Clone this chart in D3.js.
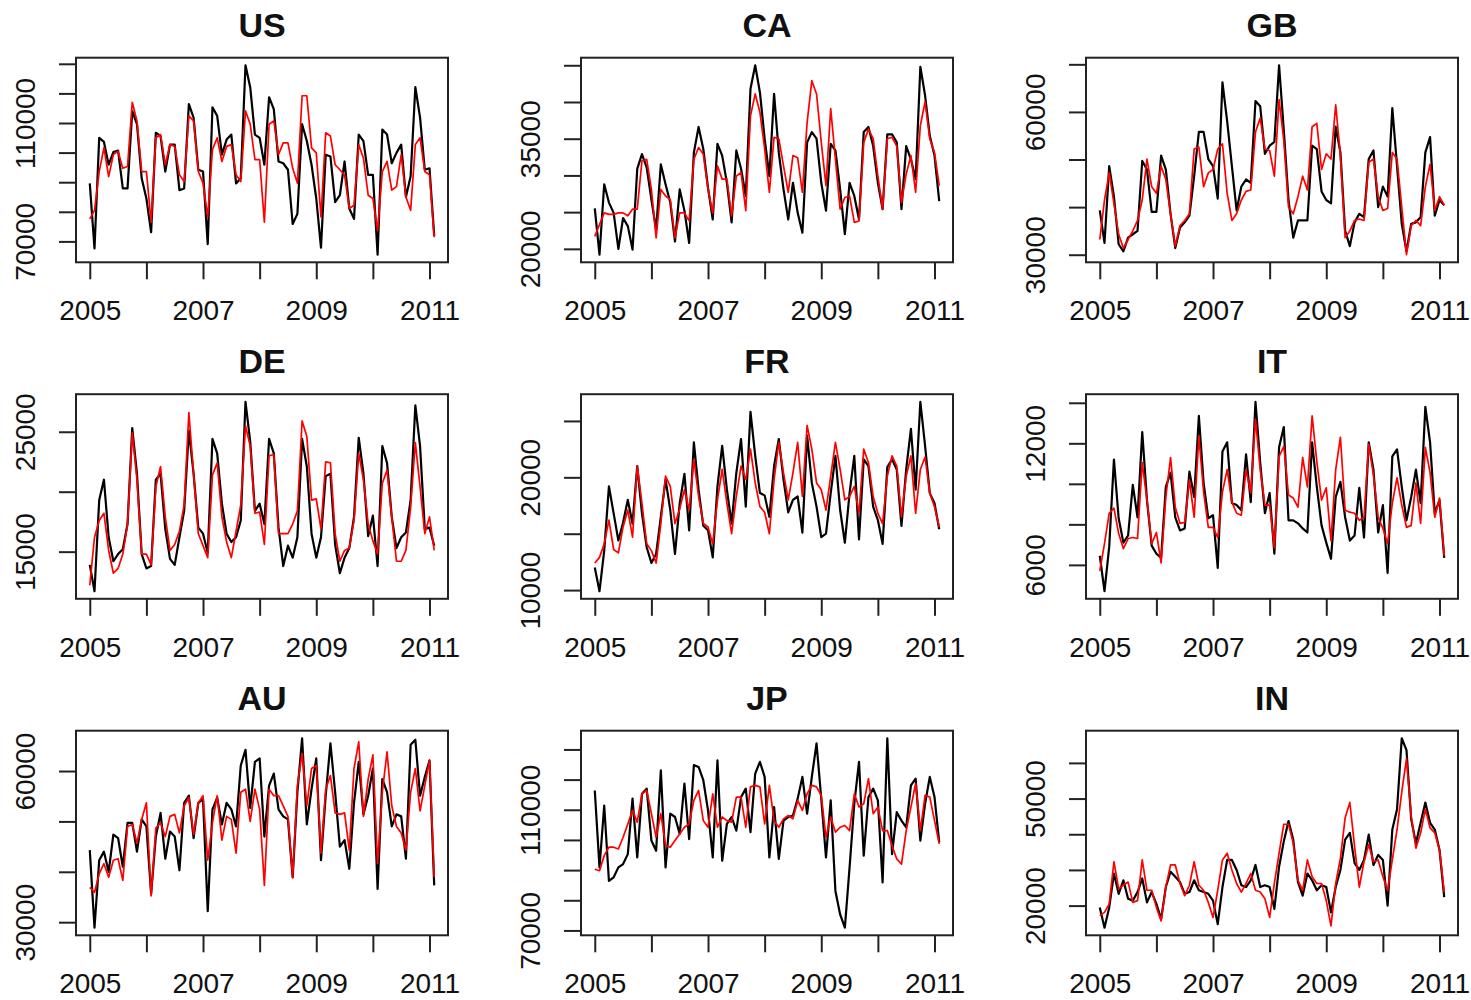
<!DOCTYPE html>
<html>
<head>
<meta charset="utf-8">
<script src="https://cdn.jsdelivr.net/npm/d3@7"></script>
<style>
  body { margin: 0; background: #fff; }
  text { font-family: "Liberation Sans", Arial, sans-serif; fill: #111; }
</style>
</head>
<body>
<div id="chart"></div>
<script>
// monthly series, Jan 2005 .. Feb 2011 (74 points)
var countries = ["US","CA","GB","DE","FR","IT","AU","JP","IN"];
var years = [2005,2006,2007,2008,2009,2010,2011];
var yearLabels = [2005,2007,2009,2011];

// black = actual, red = fitted
var actual_US = [89600,67600,105000,103600,95900,100200,100700,87900,87900,114000,
  109600,91300,84500,73100,106700,105600,93600,102700,102700,87300,
  87900,116400,111800,94200,93600,69100,115300,112400,99300,104400,
  106100,89600,91300,129500,122100,106100,105000,95900,118700,114700,
  97000,96400,94200,75900,79300,109600,103900,95900,84500,67900,
  99300,98700,83300,85600,97000,81100,77600,106100,103900,92500,
  92500,65500,107800,106100,96400,99900,102700,85000,92000,122100,
  111800,94200,94700,71900];
var fitted_US = [77600,80500,93600,101600,91900,99300,100400,94700,95300,117000,
  110700,93600,93600,76500,105000,106100,95900,102700,102100,92500,
  90200,112400,110700,93600,89700,78300,101000,105000,97000,102100,
  102700,92500,90200,114100,109600,97600,97600,76500,109600,110700,
  99300,103300,103300,94700,89700,119200,119200,101600,99900,78300,
  106700,105600,95900,94200,92500,81100,82200,102700,98100,85600,
  84500,73700,93600,97000,87300,88500,99300,85000,80500,102700,
  105000,93600,92500,71400];

var actual_CA = [25500,19200,28800,26300,24900,20000,24200,23100,19900,30900,
  32900,31100,26700,22600,31500,28800,26300,21000,28100,25200,
  20800,33100,36600,33600,28300,24000,34300,32700,29000,23600,
  33400,30900,27200,41800,45000,41300,35000,29900,41100,33100,
  28100,24000,29000,24900,22200,34500,35900,35000,29000,25200,
  34300,33400,28100,22000,29000,27200,24000,35900,36600,34000,
  29000,25400,35600,35600,34500,25400,34000,32200,29500,44800,
  40900,35400,32700,26500];
var fitted_CA = [21700,23300,24900,24700,24700,24900,24900,24500,25400,25400,
  32000,32200,28100,21500,28100,27200,26700,21500,24900,24900,
  23800,32200,33800,32900,28100,24900,31300,29500,29500,24500,
  29900,30400,25200,38100,41100,38600,33600,27700,35200,35000,
  31300,27700,32700,32400,27700,37200,42900,41100,34500,28600,
  39100,32200,25400,27000,27200,23600,23800,34500,36300,35000,
  29900,25400,35000,35200,34000,26300,30200,32700,27700,36800,
  40000,35000,33100,28600];

var actual_GB = [39300,32500,48600,42200,32200,30700,33600,34300,35000,49700,
  47900,39000,39000,50800,47900,38600,31400,35700,36800,38200,
  46500,55800,55800,50100,48600,41800,66200,58000,48600,39300,
  44300,45800,45100,62300,61200,51200,52900,53700,69800,56200,
  41500,33600,37200,37200,37200,52900,52200,43300,41500,40800,
  56900,51500,35000,31800,36800,38600,37900,50100,51900,40000,
  44300,42200,60800,48600,36500,30700,36500,36800,37900,51500,
  54700,38200,41500,40400];
var fitted_GB = [33200,41500,47200,40800,34300,31400,33200,35000,37200,41500,
  50100,44300,42900,48600,45800,38600,31800,36100,37200,38600,
  52200,52600,44300,47200,47900,52200,53300,42900,37200,38600,
  41500,43300,43600,55800,58700,52200,51900,46500,62600,54000,
  40000,38600,42200,46500,43600,56900,57600,47900,51200,50100,
  61500,50800,33600,35000,37200,37500,37200,49400,50100,42200,
  39300,39700,51500,50100,40000,30000,36100,37200,36100,44300,
  49000,39300,42200,40400];

var actual_DE = [13900,11700,19300,21000,16200,14200,14800,15200,17300,25300,
  21500,14800,13600,13800,21000,21500,16900,14400,13900,16200,
  18400,25100,21500,17000,16500,14900,24400,23200,19000,16500,
  15800,16200,17600,27500,24200,18400,19000,17300,24400,23200,
  17000,13800,15500,14500,16200,24400,22100,16500,14500,16200,
  21300,21500,15600,13200,14500,15300,17900,24500,21500,16300,
  18000,13800,23800,22400,17900,15300,16200,16600,19300,27200,
  23800,16900,17000,15500];
var fitted_DE = [12200,16200,17600,18200,15100,13200,13600,14800,17300,24900,
  21000,14800,14800,13900,20400,22100,17900,15100,15600,16700,
  18900,26600,21500,16500,15500,14500,21400,22400,17900,15800,
  14500,16700,18900,25500,23800,18200,18300,15600,23000,23100,
  16500,16500,16500,17300,18400,25900,24600,19300,19400,16900,
  22500,22400,16500,14200,15100,15300,17600,23200,21000,17300,
  15900,14800,20700,21800,17900,14200,14200,15100,18700,24100,
  20400,16500,17900,15100];

var actual_FR = [12000,9900,13500,19200,16800,14400,16000,18000,15900,21000,
  16800,13800,12400,13200,16500,19800,17100,13200,17700,20300,
  15300,23100,18900,15700,15300,12900,19200,22800,18900,15900,
  20400,23400,17400,25800,21900,18600,18400,16500,21000,23400,
  19800,16900,18000,18300,15100,23700,19500,17400,14700,15000,
  18600,21900,17100,14200,18600,21900,14500,21600,21000,17400,
  16200,14100,20900,21600,20700,15700,20700,24300,18900,26700,
  22800,18600,17700,15400];
var fitted_FR = [12400,12900,14100,16200,13600,13300,15600,17100,14700,21000,
  17700,14100,13500,12400,15900,20100,19200,15900,17200,18900,
  17100,21600,18300,15900,15600,14100,18000,20700,17700,15000,
  18300,21000,19800,22500,19500,17400,16900,15000,19800,23100,
  20400,18000,20400,23100,18300,24600,22500,19500,18900,17100,
  20100,23100,20700,18000,18300,19200,16800,22500,21300,18300,
  16800,15900,20100,21900,21000,16500,20100,21900,16800,20700,
  21800,18600,17400,15600];

var actual_IT = [6450,4700,6900,11200,8300,7100,7450,9950,8350,12550,
  9200,6950,6550,6350,9850,10550,8350,7700,7800,10600,
  9350,13350,10050,8300,8450,5850,11600,12050,9050,8950,
  8700,11450,9100,14050,11050,8550,9550,6550,11800,12800,
  8200,8200,8050,7800,7600,12050,9850,7950,7100,6300,
  9350,10100,8350,7200,7450,9800,7350,12050,10700,7600,
  8950,5600,11350,11700,9850,8200,9350,10700,9050,13800,
  12050,8550,9200,6350];
var fitted_IT = [5700,7050,8550,8800,7550,6800,7300,7350,7300,11050,
  9200,7050,7600,6100,9350,11300,8850,8050,8100,10200,
  8350,12350,9600,7850,7850,7350,9600,10700,9100,8550,
  8450,10700,9550,13200,10700,8950,8950,6850,11350,11850,
  9450,9300,8850,11300,9850,13350,11100,9200,9800,7200,
  10700,12300,8700,8600,8550,8200,8350,11950,10450,8350,
  7800,7050,9050,10300,8950,7850,7950,10050,8050,11800,
  10550,8350,9300,6450];

var actual_AU = [44300,28900,42300,44000,40000,47400,46700,41000,49700,49700,
  44000,50400,49000,35600,47000,51700,42600,48000,47000,40300,
  53700,55100,46700,53700,54400,32200,52400,54700,49400,53700,
  52400,49000,61100,64200,52700,61800,62500,47000,57100,59500,
  52400,51000,50400,38900,55800,66500,49400,56400,62500,42300,
  55100,65500,55800,45000,46300,40600,53700,61800,51400,55100,
  60500,36600,58400,55800,49000,51400,51000,42600,65200,66200,
  55100,58800,62100,37300];
var fitted_AU = [36900,35900,39600,41600,38900,42300,42600,38300,49000,49400,
  45700,50400,53700,35200,48700,49700,47000,51000,51400,47700,
  53100,54700,47400,53700,55100,42300,49700,55100,46300,51000,
  50400,43700,55800,56400,50000,56400,52400,37300,56400,55100,
  55100,53100,51000,38900,57100,63500,53100,60500,61100,43700,
  56400,59100,51700,51400,51700,44300,60500,65800,51000,58400,
  63200,41600,55800,63800,53100,49000,47700,44300,55800,60500,
  52100,57100,62100,38900];

var actual_JP = [116400,90900,111400,86400,87600,90900,92000,95300,113700,94200,
  115300,117000,99800,96400,123100,90900,108700,107600,102000,118700,
  100300,124800,124200,119800,109800,94200,126400,93100,105300,107600,
  103100,114200,117000,102600,122000,125900,120900,94200,110900,93700,
  106400,107600,108100,113700,120900,108700,120900,132000,113700,94200,
  113100,83100,75300,70900,90900,112000,125900,94800,114200,117000,
  113100,85900,133700,95300,109200,106400,104200,118100,120300,99800,
  112000,120900,114200,99200];
var fitted_JP = [90300,89800,94800,97600,97600,97000,100900,105300,109800,105900,
  115300,116400,108700,100900,108700,98100,97600,99800,102000,104200,
  105300,113100,116400,106400,104200,115300,104200,107600,106400,105900,
  114200,114200,104200,117600,118100,117600,105300,118100,106400,104200,
  107000,108100,107000,113100,109800,115300,118100,117600,114800,100900,
  107600,102600,104200,104800,103100,115300,110900,112000,120300,108700,
  110900,103100,103100,98100,93700,92000,103100,110900,118700,103100,
  114800,114200,106400,98700];

var actual_IN = [19500,13800,19500,29000,23300,27100,21900,21400,23800,27600,
  20900,23800,20500,16200,25200,29500,28100,26600,23300,23800,
  27100,24300,23800,23300,21400,14800,25200,32800,32800,30000,
  25700,25200,27100,31400,25200,25700,25200,19100,30900,38000,
  43700,38500,26600,22800,29000,27100,24300,25700,25200,18100,
  25200,30000,38500,40400,31900,30000,32800,39900,31400,34200,
  32800,20000,41300,47000,66900,63600,44200,37500,43200,48900,
  43200,41300,35600,22400];
var fitted_IN = [17200,18100,20500,32300,24700,25700,26600,20900,21400,32800,
  24300,24300,19500,15700,25200,31400,31400,26200,22800,25700,
  32300,25700,24300,20900,16700,24300,32800,34700,30000,26200,
  23800,26200,29000,24300,23800,21900,16700,26200,34700,42800,
  42800,37500,27100,24300,32800,28100,26200,26200,21400,14300,
  26200,33300,44600,48900,36600,25200,32300,37100,32300,32800,
  28100,24300,32800,41300,51800,61200,45100,36100,40400,47000,
  41800,40400,35600,23800];

// y ticks per panel, and which of them carry a label (R drops overlapping ones)
var yTicks = {
  US: [70000,80000,90000,100000,110000,120000,130000],
  CA: [20000,25000,30000,35000,40000,45000],
  GB: [30000,40000,50000,60000,70000],
  DE: [15000,20000,25000],
  FR: [10000,15000,20000,25000],
  IT: [6000,8000,10000,12000,14000],
  AU: [30000,40000,50000,60000],
  JP: [70000,80000,90000,100000,110000,120000,130000],
  IN: [20000,30000,40000,50000,60000]
};
var yLabels = {
  US: [70000,110000], CA: [20000,35000], GB: [30000,60000],
  DE: [15000,25000], FR: [10000,20000], IT: [6000,12000],
  AU: [30000,60000], JP: [70000,110000], IN: [20000,50000]
};

var actual = {US:actual_US, CA:actual_CA, GB:actual_GB, DE:actual_DE, FR:actual_FR,
  IT:actual_IT, AU:actual_AU, JP:actual_JP, IN:actual_IN};
var fitted = {US:fitted_US, CA:fitted_CA, GB:fitted_GB, DE:fitted_DE, FR:fitted_FR,
  IT:fitted_IT, AU:fitted_AU, JP:fitted_JP, IN:fitted_IN};

var time = actual_US.map(function(d,i){ return 2005 + i/12; });

var svg = d3.select("#chart").append("svg")
  .attr("width", 1471)
  .attr("height", 1000)
  .style("background", "#fff");

var W = 372, H = 204.6;
var left0 = 76, top0 = 57.7, colStep = 505, rowStep = 336.5;

// R style 4% padding
function pad(ext) {
  var r = ext[1] - ext[0];
  return [ext[0] - 0.04*r, ext[1] + 0.04*r];
}

countries.forEach(function(c, k) {
  var col = k % 3, row = Math.floor(k/3);
  var g = svg.append("g")
    .attr("transform", "translate(" + (left0 + col*colStep) + "," + (top0 + row*rowStep) + ")");

  var x = d3.scaleLinear().domain(pad(d3.extent(time))).range([0, W]);
  var y = d3.scaleLinear()
    .domain(pad(d3.extent(actual[c].concat(fitted[c]))))
    .range([H, 0]);

  var line = d3.line()
    .x(function(d,i){ return x(time[i]); })
    .y(function(d){ return y(d); });

  g.append("path").datum(actual[c])
    .attr("d", line)
    .attr("fill", "none")
    .attr("stroke", "#000")
    .attr("stroke-width", 2.2)
    .attr("stroke-linejoin", "round");

  g.append("path").datum(fitted[c])
    .attr("d", line)
    .attr("fill", "none")
    .attr("stroke", "#ff0000")
    .attr("stroke-width", 1.7)
    .attr("stroke-linejoin", "round");

  g.append("rect")
    .attr("width", W).attr("height", H)
    .attr("fill", "none")
    .attr("stroke", "#222")
    .attr("stroke-width", 2);

  var xAxis = g.append("g")
    .attr("transform", "translate(0," + H + ")")
    .call(d3.axisBottom(x).tickValues(years).tickSize(17)
      .tickFormat(function(d){ return yearLabels.indexOf(d) >= 0 ? d : ""; }));
  xAxis.select(".domain").remove();
  xAxis.selectAll("line").attr("stroke", "#222").attr("stroke-width", 2);
  xAxis.selectAll("text")
    .attr("y", 58).attr("dy", 0)
    .attr("font-size", "28px")
    .attr("font-family", "Liberation Sans, Arial, sans-serif")
    .attr("fill", "#111");

  var yAxis = g.append("g")
    .call(d3.axisLeft(y).tickValues(yTicks[c]).tickSize(17)
      .tickFormat(function(d){ return yLabels[c].indexOf(d) >= 0 ? d : ""; }));
  yAxis.select(".domain").remove();
  yAxis.selectAll("line").attr("stroke", "#222").attr("stroke-width", 2);
  yAxis.selectAll("text")
    .attr("x", 0).attr("dy", 0)
    .attr("transform", "translate(-41,0) rotate(-90)")
    .attr("text-anchor", "middle")
    .attr("font-size", "28px")
    .attr("font-family", "Liberation Sans, Arial, sans-serif")
    .attr("fill", "#111");

  g.append("text")
    .attr("x", W/2)
    .attr("y", -21)
    .attr("text-anchor", "middle")
    .attr("font-size", "34px")
    .attr("font-weight", "700")
    .text(c);
});
</script>
</body>
</html>
